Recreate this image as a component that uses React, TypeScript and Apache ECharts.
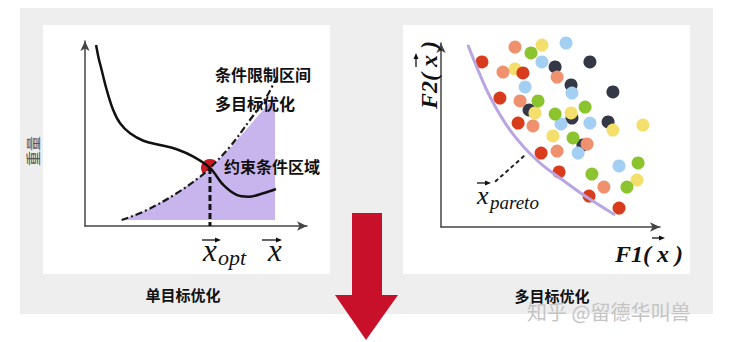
import React, { useEffect, useRef } from "react";
import * as echarts from "echarts";

// ---- Left chart (single objective) data, axis units 0..10 ----
const costCurve: [number, number][] = [
  [0.5, 9.78], [0.6, 9.15], [0.75, 8.43], [0.98, 7.35], [1.27, 6.27], [1.58, 5.55],
  [2.03, 5.01], [2.63, 4.61], [3.38, 4.38], [4.13, 4.15], [4.88, 3.75], [5.63, 3.14],
  [6.23, 2.22], [6.83, 1.68], [7.36, 1.58], [8.03, 1.77], [8.6, 2.0],
];
const constraintCurve: [number, number][] = [
  [1.65, 0.32], [2.78, 0.86], [4.13, 1.77], [5.18, 2.66], [5.63, 3.14],
  [6.53, 4.29], [7.43, 5.73], [8.18, 6.99], [8.64, 8.07],
];
const feasibleFill: [number, number][] = [
  [1.65, 0.32], [2.78, 0.86], [4.13, 1.77], [5.18, 2.66], [5.63, 3.14],
  [6.53, 4.2], [7.43, 5.45], [8.02, 6.27], [8.56, 6.97],
];
const fillBase = 0.32;
const optimum: [number, number][] = [[5.63, 3.14]];
const optimumDrop: [number, number][] = [[5.63, 3.14], [5.63, 0]];

// ---- Right chart (multi objective) data ----
const paretoFront: [number, number][] = [
  [1.23, 9.89], [1.69, 8.53], [2.24, 7.08], [3.15, 5.27], [4.37, 3.64],
  [5.74, 2.39], [6.58, 1.68], [7.95, 0.65],
];
const paretoPointer: [number, number][] = [[2.47, 2.46], [3.84, 3.91]];
const darkPts: [number, number][] = [
  [5.21, 8.7], [6.8, 8.97], [5.94, 7.72], [7.85, 7.34], [4.02, 6.36], [5.98, 5.92],
  [7.63, 5.71], [6.48, 4.46],
];
const bluePts: [number, number][] = [
  [5.71, 10.0], [4.61, 8.97], [3.84, 7.61], [5.98, 7.28], [5.48, 5.6], [6.8, 5.65],
  [6.26, 4.02], [8.13, 3.32],
];
const yellowPts: [number, number][] = [
  [4.61, 9.89], [3.38, 8.59], [4.29, 6.2], [5.94, 6.2], [7.85, 5.27], [9.22, 5.54],
  [5.11, 4.95], [8.95, 2.55],
];
const greenPts: [number, number][] = [
  [4.11, 9.46], [4.43, 6.85], [5.21, 6.14], [6.58, 6.52], [6.03, 4.84], [6.89, 2.88],
  [9.0, 3.48], [8.49, 2.17],
];
const salmonPts: [number, number][] = [
  [3.38, 9.78], [2.83, 8.42], [5.3, 8.15], [3.61, 6.85], [4.2, 5.49], [6.67, 4.51],
  [5.3, 4.13], [7.44, 2.17],
];
const redPts: [number, number][] = [
  [1.87, 8.97], [3.74, 8.37], [2.69, 7.01], [3.52, 5.65], [4.57, 4.02], [5.39, 2.99],
  [6.76, 1.68], [8.13, 1.03],
];

const CJK = '"Noto Sans CJK SC", "Noto Sans", sans-serif';
const SERIF = '"Liberation Serif", "DejaVu Serif", serif';

function hArrow(x1: number, x2: number, y: number): any[] {
  return [
    { type: "line", z: 100, shape: { x1, y1: y, x2: x2 - 3, y2: y }, style: { stroke: "#111", lineWidth: 1.3 } },
    { type: "polygon", z: 100, shape: { points: [[x2, y], [x2 - 6, y - 2.5], [x2 - 6, y + 2.5]] }, style: { fill: "#111" } },
  ];
}
function vArrow(x: number, yBottom: number, yTop: number): any[] {
  return [
    { type: "line", z: 100, shape: { x1: x, y1: yBottom, x2: x, y2: yTop + 3 }, style: { stroke: "#111", lineWidth: 1.3 } },
    { type: "polygon", z: 100, shape: { points: [[x, yTop], [x - 2.5, yTop + 6], [x + 2.5, yTop + 6]] }, style: { fill: "#111" } },
  ];
}
function txt(text: string, x: number, y: number, extra: any = {}, styleExtra: any = {}): any {
  return {
    type: "text",
    z: 100,
    x,
    y,
    ...extra,
    style: {
      text,
      fontSize: 16,
      fontFamily: CJK,
      fontWeight: "bold",
      fill: "#111",
      align: "left",
      verticalAlign: "middle",
      ...styleExtra,
    },
  };
}

function axis(gridIndex: number) {
  return {
    type: "value",
    gridIndex,
    min: 0,
    max: 10,
    axisLine: {
      show: true,
      onZero: false,
      symbol: ["none", "arrow"],
      symbolSize: [7, 10],
      lineStyle: { color: "#444", width: 1.5 },
    },
    axisTick: { show: false },
    axisLabel: { show: false },
    splitLine: { show: false },
  };
}

function dots(data: [number, number][], color: string) {
  return {
    type: "scatter",
    xAxisIndex: 1,
    yAxisIndex: 1,
    data,
    symbolSize: 13,
    itemStyle: { color, opacity: 1 },
    silent: true,
  };
}

export default function App() {
  const ref = useRef<HTMLDivElement>(null);
  useEffect(() => {
    if (!ref.current) return;
    const chart = echarts.init(ref.current, undefined, { renderer: "svg" });
    const graphics: any[] = [
      { type: "rect", z: -10, shape: { x: 20, y: 8, width: 693, height: 306 }, style: { fill: "#eeeeee" } },
      { type: "rect", z: -9, shape: { x: 43, y: 25, width: 287, height: 249 }, style: { fill: "#ffffff" } },
      { type: "rect", z: -9, shape: { x: 403, y: 25, width: 287, height: 249 }, style: { fill: "#ffffff" } },
      // big red arrow
      { type: "rect", z: 50, shape: { x: 352, y: 213, width: 30, height: 83 }, style: { fill: "#c8102a" } },
      { type: "polygon", z: 50, shape: { points: [[335, 295], [398, 295], [366, 340]] }, style: { fill: "#c8102a" } },
      // left labels
      txt("条件限制区间", 215, 74),
      txt("多目标优化", 215, 103),
      txt("约束条件区域", 224, 166),
      txt("单目标优化", 183, 294, {}, { align: "center", fontSize: 15 }),
      txt("重量", 32, 151, { rotation: Math.PI / 2 }, { align: "center", fontWeight: "normal", fill: "#555", fontSize: 15 }),
      // left math labels
      ...hArrow(202, 221, 240),
      txt("x", 203, 250, {}, { fontFamily: SERIF, fontStyle: "italic", fontWeight: "normal", fontSize: 31 }),
      txt("opt", 218, 257, {}, { fontFamily: SERIF, fontStyle: "italic", fontWeight: "normal", fontSize: 22 }),
      ...hArrow(262, 282, 240),
      txt("x", 268, 250, {}, { fontFamily: SERIF, fontStyle: "italic", fontWeight: "normal", fontSize: 31 }),
      // right labels
      ...hArrow(477, 491, 183),
      txt("x", 477, 195, {}, { fontFamily: SERIF, fontStyle: "italic", fontWeight: "normal", fontSize: 26 }),
      txt("pareto", 490, 202, {}, { fontFamily: SERIF, fontStyle: "italic", fontWeight: "normal", fontSize: 19 }),
      txt("F1( x )", 615, 254, {}, { fontFamily: SERIF, fontStyle: "italic", fontWeight: "bold", fontSize: 24 }),
      ...hArrow(652, 665, 238),
      txt("F2( x )", 429, 75, { rotation: Math.PI / 2 }, { align: "center", fontFamily: SERIF, fontStyle: "italic", fontWeight: "bold", fontSize: 24 }),
      ...vArrow(416, 67, 53),
      txt("多目标优化", 552, 295, {}, { align: "center", fontSize: 15 }),
      txt("知乎 @留德华叫兽", 527, 311, {}, { fontWeight: "normal", fontSize: 20, fill: "#c4c4c4" }),
    ];

    chart.setOption({
      animation: false,
      grid: [
        { left: 85, top: 41, width: 222, height: 185 },
        { left: 441, top: 43, width: 219, height: 184 },
      ],
      xAxis: [axis(0), axis(1)],
      yAxis: [axis(0), axis(1)],
      graphic: graphics,
      series: [
        {
          type: "line",
          xAxisIndex: 0,
          yAxisIndex: 0,
          data: feasibleFill,
          symbol: "none",
          lineStyle: { width: 0 },
          areaStyle: { color: "#c8b5ee", opacity: 1, origin: fillBase },
          silent: true,
        },
        {
          type: "line",
          xAxisIndex: 0,
          yAxisIndex: 0,
          data: constraintCurve,
          smooth: 0.4,
          symbol: "none",
          lineStyle: { color: "#1a1a1a", width: 2.2, type: [7, 3, 2, 3] },
          silent: true,
        },
        {
          type: "line",
          xAxisIndex: 0,
          yAxisIndex: 0,
          data: costCurve,
          smooth: 0.35,
          symbol: "none",
          lineStyle: { color: "#111", width: 2.5 },
          silent: true,
        },
        {
          type: "line",
          xAxisIndex: 0,
          yAxisIndex: 0,
          data: optimumDrop,
          symbol: "none",
          lineStyle: { color: "#111", width: 3, type: [6, 3] },
          silent: true,
        },
        {
          type: "scatter",
          xAxisIndex: 0,
          yAxisIndex: 0,
          data: optimum,
          symbolSize: 18,
          itemStyle: { color: "#cc1822", opacity: 1 },
          silent: true,
        },
        {
          type: "line",
          xAxisIndex: 1,
          yAxisIndex: 1,
          data: paretoFront,
          smooth: 0.4,
          symbol: "none",
          lineStyle: { color: "#b9a5e2", width: 3 },
          silent: true,
        },
        {
          type: "line",
          xAxisIndex: 1,
          yAxisIndex: 1,
          data: paretoPointer,
          symbol: "none",
          lineStyle: { color: "#222", width: 2, type: [4, 3] },
          silent: true,
        },
        dots(darkPts, "#343746"),
        dots(bluePts, "#a3cff2"),
        dots(yellowPts, "#f4de6c"),
        dots(greenPts, "#8bc42f"),
        dots(salmonPts, "#ef906e"),
        dots(redPts, "#d93c1d"),
      ],
    });
    return () => chart.dispose();
  }, []);
  return (
    <div
      ref={ref}
      style={{ position: "fixed", left: 0, top: 0, width: 738, height: 342, background: "#fff" }}
    />
  );
}
